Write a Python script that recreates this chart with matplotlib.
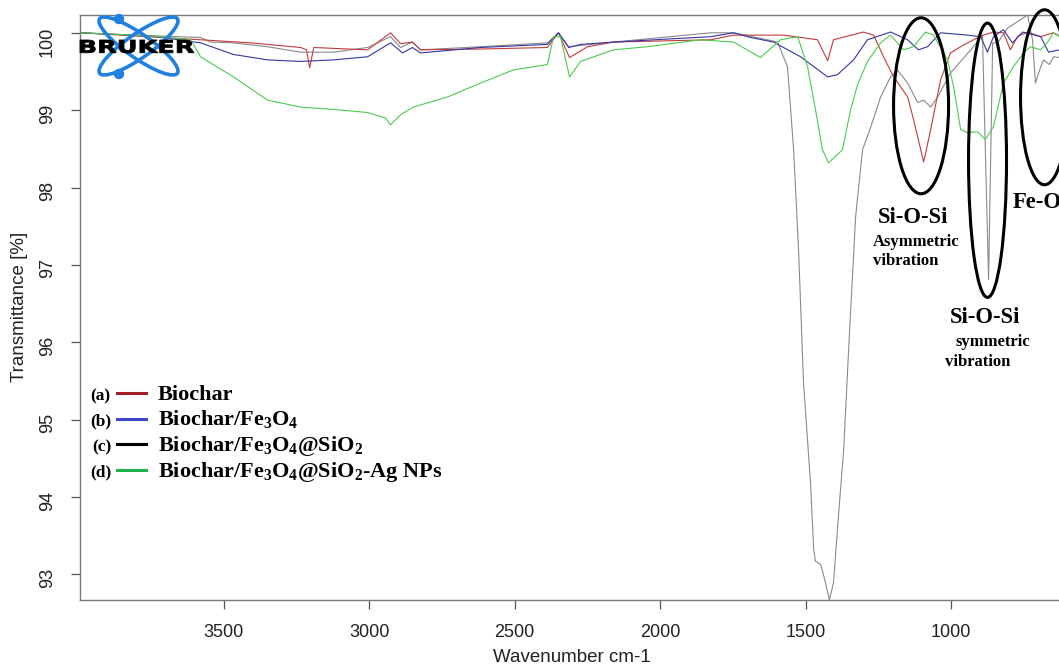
import matplotlib
matplotlib.use("Agg")
import matplotlib.pyplot as plt
from matplotlib.patches import Ellipse, Circle, PathPatch
from matplotlib.lines import Line2D
from matplotlib.textpath import TextPath
from matplotlib.font_manager import FontProperties
from matplotlib.transforms import Affine2D

# FTIR spectra (wavenumber cm-1, transmittance %)
wn_a = [3991, 3809, 3579, 3407, 3235, 3215, 3204, 3190, 3005, 2926, 2892, 2851, 2823, 2617, 2387,
        2349, 2311, 2249, 2160, 1826, 1747, 1576, 1517, 1459, 1424, 1404, 1301, 1266, 1232, 1197,
        1149, 1129, 1094, 1070, 1053, 1036, 1002, 967, 923, 888, 854, 820, 796, 772, 737, 692, 648, 627]
t_a = [100.0, 99.96, 99.91, 99.87, 99.81, 99.78, 99.55, 99.81, 99.78, 100.0, 99.86, 99.88, 99.78, 99.79, 99.81,
       100.0, 99.68, 99.82, 99.88, 99.91, 99.97, 99.97, 99.94, 99.91, 99.64, 99.91, 100.01, 99.97, 99.69, 99.43,
       99.17, 98.88, 98.33, 98.75, 99.07, 99.39, 99.74, 99.82, 99.91, 99.97, 100.01, 100.0, 99.78, 99.95, 100.01,
       99.95, 100.0, 99.96]

wn_b = [3991, 3751, 3579, 3466, 3349, 3235, 3122, 3005, 2926, 2885, 2851, 2823, 2617, 2387, 2349,
        2314, 2273, 2160, 1826, 1747, 1689, 1610, 1517, 1424, 1390, 1335, 1287, 1208, 1149, 1112,
        1081, 1036, 943, 898, 875, 854, 820, 789, 754, 692, 665, 627]
t_b = [100.0, 99.96, 99.87, 99.72, 99.65, 99.63, 99.65, 99.69, 99.87, 99.74, 99.81, 99.74, 99.81, 99.85, 100.0,
       99.81, 99.85, 99.88, 99.95, 100.0, 99.94, 99.88, 99.69, 99.43, 99.46, 99.65, 99.91, 100.01, 99.91, 99.78,
       99.82, 100.0, 99.97, 99.95, 99.75, 99.95, 100.04, 99.87, 100.01, 99.95, 99.75, 99.78]

wn_c = [3991, 3809, 3579, 3545, 3466, 3349, 3235, 3122, 3005, 2926, 2892, 2851, 2823, 2617, 2387,
        2349, 2314, 2160, 1826, 1747, 1631, 1596, 1562, 1541, 1524, 1507, 1483, 1472, 1466, 1448,
        1431, 1418, 1404, 1387, 1369, 1352, 1328, 1304, 1277, 1242, 1208, 1184, 1149, 1115, 1094,
        1070, 1046, 1002, 923, 892, 871, 857, 840, 806, 761, 737, 720, 710, 692, 682, 662, 648, 627]
t_c = [100.0, 99.97, 99.94, 99.88, 99.87, 99.82, 99.75, 99.75, 99.81, 99.95, 99.81, 99.88, 99.78, 99.82, 99.87,
       100.0, 99.82, 99.88, 100.0, 100.0, 99.91, 99.88, 99.56, 98.49, 97.20, 95.48, 94.19, 93.32, 93.17, 93.13,
       92.89, 92.67, 92.89, 93.75, 94.61, 95.90, 97.62, 98.49, 98.77, 99.17, 99.43, 99.52, 99.35, 99.10, 99.13,
       99.04, 99.17, 99.48, 99.82, 99.97, 96.81, 99.87, 99.87, 100.06, 100.17, 100.23, 99.91, 99.35, 99.56, 99.65,
       99.59, 99.69, 99.68]

wn_d = [3991, 3751, 3613, 3579, 3466, 3349, 3235, 3122, 3005, 2944, 2926, 2892, 2848, 2731, 2617,
        2504, 2387, 2366, 2342, 2311, 2273, 2160, 2043, 1861, 1747, 1655, 1586, 1527, 1493, 1466,
        1442, 1421, 1373, 1345, 1321, 1287, 1242, 1208, 1163, 1129, 1088, 1060, 1012, 991, 967,
        943, 909, 882, 854, 820, 786, 751, 727, 692, 668, 648, 627]
t_d = [100.0, 99.96, 99.91, 99.69, 99.43, 99.13, 99.04, 99.01, 98.97, 98.90, 98.81, 98.94, 99.04, 99.17, 99.35,
       99.52, 99.59, 99.95, 99.95, 99.43, 99.63, 99.78, 99.82, 99.91, 99.88, 99.68, 99.91, 99.95, 99.56, 99.01,
       98.49, 98.32, 98.49, 99.01, 99.33, 99.63, 99.87, 99.97, 99.78, 99.82, 100.01, 99.97, 99.65, 99.30, 98.75,
       98.71, 98.72, 98.62, 98.79, 99.35, 99.56, 99.74, 99.82, 99.78, 99.88, 100.0, 99.95]

tags = ["(a)", "(b)", "(c)", "(d)"]
names = ["Biochar",
         r"Biochar/Fe$_3$O$_4$",
         r"Biochar/Fe$_3$O$_4$@SiO$_2$",
         r"Biochar/Fe$_3$O$_4$@SiO$_2$-Ag NPs"]
curve_colors = ["#c23b3b", "#3535a8", "#8a8a8a", "#4ccc4c"]
legend_colors = ["#a01e24", "#3f48cc", "#000000", "#22b14c"]

x_ticks = [3500, 3000, 2500, 2000, 1500, 1000]
y_ticks = [93, 94, 95, 96, 97, 98, 99, 100]

W, H = 1059, 668
plt.rcParams["font.family"] = "Liberation Sans"
plt.rcParams["mathtext.fontset"] = "custom"
plt.rcParams["mathtext.rm"] = "Liberation Serif:bold"
plt.rcParams["mathtext.it"] = "Liberation Serif:bold"
plt.rcParams["mathtext.bf"] = "Liberation Serif:bold"


def fx(px):
    return px / W


def fy(py):
    return 1 - py / H


fig = plt.figure(figsize=(W / 100, H / 100), dpi=100)
ax = fig.add_axes([79.5 / W, 68 / H, 1 - 79.5 / W, 585 / H])

ax.plot(wn_c, t_c, color=curve_colors[2], lw=0.8)
ax.plot(wn_a, t_a, color=curve_colors[0], lw=0.8)
ax.plot(wn_b, t_b, color=curve_colors[1], lw=0.8)
ax.plot(wn_d, t_d, color=curve_colors[3], lw=0.8)

ax.set_xlim(3995, 629)
ax.set_ylim(92.67, 100.23)
ax.set_xticks(x_ticks)
ax.set_yticks(y_ticks)
ax.spines["right"].set_visible(False)
for side in ["top", "left", "bottom"]:
    ax.spines[side].set_color("#7a7a7a")
    ax.spines[side].set_linewidth(1.0)
ax.tick_params(direction="out", length=6.5, width=0.9, color="#555555",
               labelsize=13, pad=10.5, labelcolor="#222222")
ax.tick_params(axis="y", labelrotation=90)

fig.text(fx(572), fy(658), "Wavenumber cm-1", fontsize=13.5, color="#222222",
         ha="center", va="center")
fig.text(fx(20), fy(307), "Transmittance [%]", fontsize=13.5, color="#222222",
         rotation=90, ha="center", va="center")

# band assignments
serif = dict(family="Liberation Serif", weight="bold", color="black")
ell = dict(fill=False, ec="black", lw=2.2, clip_on=False, zorder=5)
ax.add_patch(Ellipse((1103, 99.057), 189, 2.274, **ell))
ax.add_patch(Ellipse((874.6, 98.353), 130.6, 3.545, **ell))
ax.add_patch(Ellipse((678.7, 99.167), 165, 2.261, **ell))

ax.text(1130.6, 97.541, "Si-O-Si", fontsize=16.3, ha="center", va="baseline", **serif)
ax.text(1269.8, 97.239, "Asymmetric", fontsize=12, ha="left", va="baseline", **serif)
ax.text(1269.8, 97.003, "vibration", fontsize=12, ha="left", va="baseline", **serif)
ax.text(884.9, 96.249, "Si-O-Si", fontsize=16.3, ha="center", va="baseline", **serif)
ax.text(984.5, 95.947, "symmetric", fontsize=12, ha="left", va="baseline", **serif)
ax.text(1022.3, 95.689, "vibration", fontsize=12, ha="left", va="baseline", **serif)
ax.text(788.7, 97.735, "Fe-O", fontsize=16.3, ha="left", va="baseline", clip_on=False, **serif)

# legend drawn by hand: tag, short line, name
rows = [400, 425.5, 451, 476.5]
tag_x = [90, 90, 92, 90]
for i in range(4):
    fig.text(fx(tag_x[i]), fy(rows[i]), tags[i], fontsize=12.5, ha="left", va="baseline", **serif)
    fig.add_artist(Line2D([fx(117), fx(146)], [fy(rows[i] - 7), fy(rows[i] - 7)],
                          color=legend_colors[i], lw=2.2))
    fig.text(fx(158), fy(rows[i]), names[i], fontsize=16, ha="left", va="baseline", **serif)

# BRUKER logo
pix = Affine2D().scale(1 / W, 1 / H) + fig.transFigure
logo_blue = "#1f80e0"
for ang in (35, -35):
    fig.add_artist(Ellipse((138.5, H - 46), 95, 24, angle=ang, fill=False, ec=logo_blue,
                           lw=2.6, transform=pix, zorder=10))
for cy in (19, 74):
    fig.add_artist(Circle((119, H - cy), 4.5, color=logo_blue, transform=pix, zorder=10))
tp = TextPath((0, 0), "BRUKER", size=10, prop=FontProperties(family="DejaVu Sans", weight="bold"))
ext = tp.get_extents()
tp_tr = Affine2D().translate(-ext.x0, -ext.y0).scale(114 / ext.width, 13 / ext.height) \
    .translate(80, H - 53) + pix
fig.add_artist(PathPatch(tp, fc="black", ec="black", lw=0.6, transform=tp_tr, zorder=11))

fig.savefig("out.png", dpi=100)
